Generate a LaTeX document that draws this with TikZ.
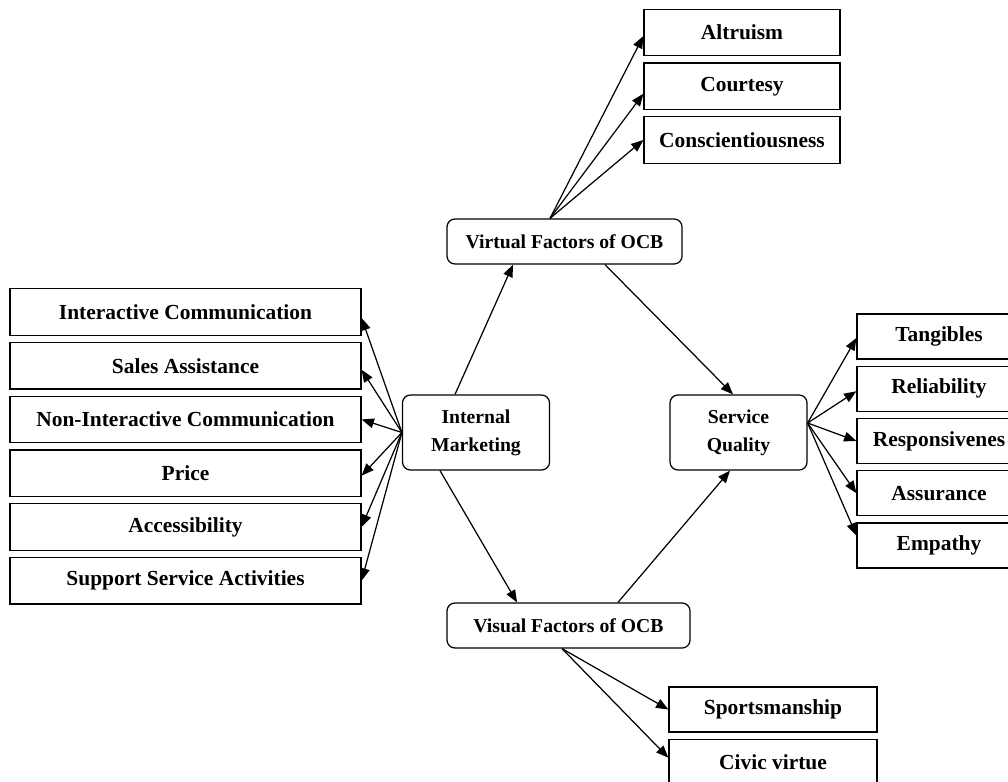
\documentclass[tikz,border=0pt]{standalone}
\usepackage{fontspec}
\setmainfont{Liberation Serif}
\usetikzlibrary{shapes,arrows.meta,positioning}

\tikzset{
  item/.style={draw, line width=0.7pt, minimum height=0.93cm, inner sep=0pt,
    font=\fontsize{12.2}{14}\selectfont\bfseries},
  hub/.style={draw, line width=0.7pt, rounded corners=4.5pt, inner sep=0pt, align=center,
    font=\fontsize{11.2}{15.9}\selectfont\bfseries},
  link/.style={->, line width=0.7pt, >={Triangle[length=7pt,width=5.5pt]}}
}

\begin{document}
\begin{tikzpicture}[node distance=0.12cm]
    \useasboundingbox (0,0) rectangle (20.16,-15.62);
    \clip (0,0) rectangle (20.16,-15.62);

    % central constructs
    \node [hub, minimum width=2.94cm, minimum height=1.5cm] (im) at (9.52,-8.65) {Internal\\Marketing};
    \node [hub, minimum width=4.7cm, minimum height=0.9cm] (vf) at (11.29,-4.83) {Virtual Factors of OCB};
    \node [hub, minimum width=2.74cm, minimum height=1.5cm] (sq) at (14.77,-8.65) {Service\\Quality};
    \node [hub, minimum width=4.86cm, minimum height=0.9cm] (vis) at (11.37,-12.51) {Visual Factors of OCB};

    % internal marketing dimensions
    \node [item, minimum width=7.02cm] (ic) at (3.71,-6.24) {Interactive Communication};
    \node [item, minimum width=7.02cm] (sa) [below=of ic] {Sales Assistance};
    \node [item, minimum width=7.02cm] (nic) [below=of sa] {Non-Interactive Communication};
    \node [item, minimum width=7.02cm] (pr) [below=of nic] {Price};
    \node [item, minimum width=7.02cm] (ac) [below=of pr] {Accessibility};
    \node [item, minimum width=7.02cm] (ssa) [below=of ac] {Support Service Activities};

    % virtual factors
    \node [item, minimum width=3.92cm] (alt) at (14.84,-0.65) {Altruism};
    \node [item, minimum width=3.92cm] (cou) [below=of alt] {Courtesy};
    \node [item, minimum width=3.92cm] (con) [below=of cou] {Conscientiousness};

    % service quality dimensions
    \node [item, minimum width=3.28cm, minimum height=0.9cm] (tan) at (18.78,-6.73) {Tangibles};
    \node [item, minimum width=3.28cm, minimum height=0.9cm] (rel) [below=of tan] {Reliability};
    \node [item, minimum width=3.28cm, minimum height=0.9cm] (res) [below=of rel] {Responsivenes};
    \node [item, minimum width=3.28cm, minimum height=0.9cm] (ass) [below=of res] {Assurance};
    \node [item, minimum width=3.28cm, minimum height=0.9cm] (emp) [below=of ass] {Empathy};

    % visual factors
    \node [item, minimum width=4.16cm, minimum height=0.9cm] (sp) at (15.46,-14.19) {Sportsmanship};
    \node [item, minimum width=4.16cm, minimum height=0.9cm] (cv) [below=of sp] {Civic virtue};

    \path[link] (im.west) edge ([yshift=-0.12cm]ic.east);
    \path[link] (im.west) edge ([yshift=-0.08cm]sa.east);
    \path[link] (im.west) edge (nic.east);
    \path[link] (im.west) edge ([yshift=-0.05cm]pr.east);
    \path[link] (im.west) edge (ac.east);
    \path[link] (im.west) edge (ssa.east);

    \path[link] ([xshift=-0.42cm]im.north) edge ([xshift=-1.03cm]vf.south);
    \path[link] ([xshift=-0.72cm]im.south) edge ([xshift=-1.03cm]vis.north);

    \path[link] ([xshift=-0.29cm]vf.north) edge ([yshift=-0.07cm]alt.west);
    \path[link] ([xshift=-0.29cm]vf.north) edge ([yshift=-0.15cm]cou.west);
    \path[link] ([xshift=-0.29cm]vf.north) edge (con.west);
    \path[link] ([xshift=0.81cm]vf.south) edge ([xshift=-0.11cm]sq.north);

    \path[link] ([xshift=0.99cm]vis.north) edge ([xshift=-0.17cm]sq.south);
    \path[link] ([xshift=-0.13cm]vis.south) edge (sp.west);
    \path[link] ([xshift=-0.13cm]vis.south) edge ([yshift=0.08cm]cv.west);

    \path[link] ([yshift=0.19cm]sq.east) edge ([yshift=-0.03cm]tan.west);
    \path[link] ([yshift=0.19cm]sq.east) edge ([yshift=-0.05cm]rel.west);
    \path[link] ([yshift=0.19cm]sq.east) edge (res.west);
    \path[link] ([yshift=0.19cm]sq.east) edge (ass.west);
    \path[link] ([yshift=0.19cm]sq.east) edge ([yshift=0.2cm]emp.west);
\end{tikzpicture}
\end{document}
